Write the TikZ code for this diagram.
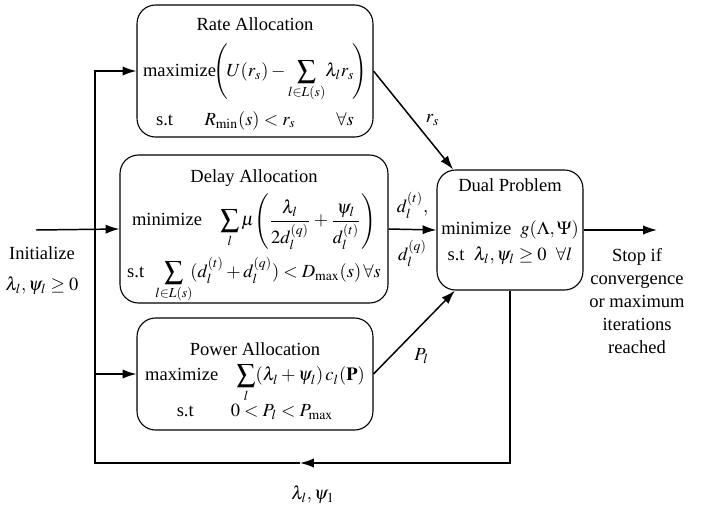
\documentclass[tikz,border=0pt]{standalone}
\usepackage{amsmath}
\usepackage{mathptmx}
\usepackage{fontspec}
\setmainfont{Liberation Serif}
\usepackage{tikz}
\usetikzlibrary{arrows.meta,positioning}

\begin{document}
\begin{tikzpicture}[x=0.54pt,y=-0.54pt,
  probbox/.style={rectangle, draw, rounded corners=10pt, align=center,
    inner sep=0pt, line width=0.6pt},
  arr/.style={-{Latex[length=7.5pt,width=5pt]}, line width=0.8pt},
]
  \useasboundingbox (0,0) rectangle (708,511);

  \node[probbox, minimum width=127.4pt, minimum height=71.3pt] (rate) at (255,71)
    {\rule{0pt}{10pt}Rate Allocation\\[6pt]
     maximize$\displaystyle\!\left(\!U(r_s)-\sum_{l\in L(s)}\!\lambda_l r_s\!\right)$\\[4pt]
     s.t\hspace{1.7em}$R_{\min}(s)<r_s$\hspace{2.2em}$\forall s$};
  \node[probbox, minimum width=144.7pt, minimum height=79.9pt] (delay) at (254,229)
    {\rule{0pt}{14.6pt}Delay Allocation\\[3pt]
     minimize\quad$\displaystyle\sum_l\mu\!\left(\frac{\lambda_l}{2d_l^{(q)}}+\frac{\psi_l}{d_l^{(t)}}\right)$\\[3pt]
     s.t\hspace{0.6em}$\displaystyle\sum_{l\in L(s)}\!(d_l^{(t)}+d_l^{(q)})<D_{\max}(s)\,\forall s$};
  \node[probbox, minimum width=127.4pt, minimum height=60.5pt] (power) at (255,374)
    {\rule{0pt}{14.5pt}Power Allocation\\[2pt]
     maximize\quad$\displaystyle\sum_l(\lambda_l+\psi_l)\,c_l(\mathbf{P})$\\[0pt]
     s.t\hspace{2em}$0<P_l<P_{\max}$};
  \node[probbox, minimum width=78.8pt, minimum height=64.8pt] (dual) at (510,230)
    {Dual Problem\\[11pt]
     minimize\ \ $g(\Lambda,\Psi)$\\[2pt]
     s.t\ \ $\lambda_l,\psi_l\geq 0\ \ \forall l$\rule[-11pt]{0pt}{0pt}};

  \node (init) at (42,253) {Initialize};
  \node[below=2pt of init] (initval) {$\lambda_l,\psi_l\geq 0$};
  \node[align=center] (stop) at (637,301) {Stop if\\[0.4pt]convergence\\[0.4pt]or maximum\\[0.4pt]iterations\\[0.4pt]reached};

  \coordinate (start) at (36,230);
  \coordinate (stopend) at (657,230);
  \coordinate (fbmid) at (300,463);
  \coordinate (fbcorner) at (95,463);

  \draw[arr] (start) -- (delay.west);
  \draw[arr] (rate.east) -- ([xshift=9pt]dual.north west)
    node[pos=0.5, right=3pt] {$r_s$};
  \draw[arr] (delay.east) -- (dual.west)
    node[midway, above=2pt] {$d_l^{(t)},$} node[midway, below=2pt] {$d_l^{(q)}$};
  \draw[arr] (power.east) -- ([xshift=10pt]dual.south west)
    node[pos=0.4, below right=1pt] {$P_l$};
  \draw[arr] (dual.east) -- (stopend);

  \draw[arr] (dual.south) |- (fbmid);
  \draw[arr] (fbmid) -- (fbcorner) |- (rate.west);
  \draw[arr] (power.west -| fbcorner) -- (power.west);
  \node (fblbl) at (313,495) {$\lambda_l,\psi_1$};
\end{tikzpicture}
\end{document}
